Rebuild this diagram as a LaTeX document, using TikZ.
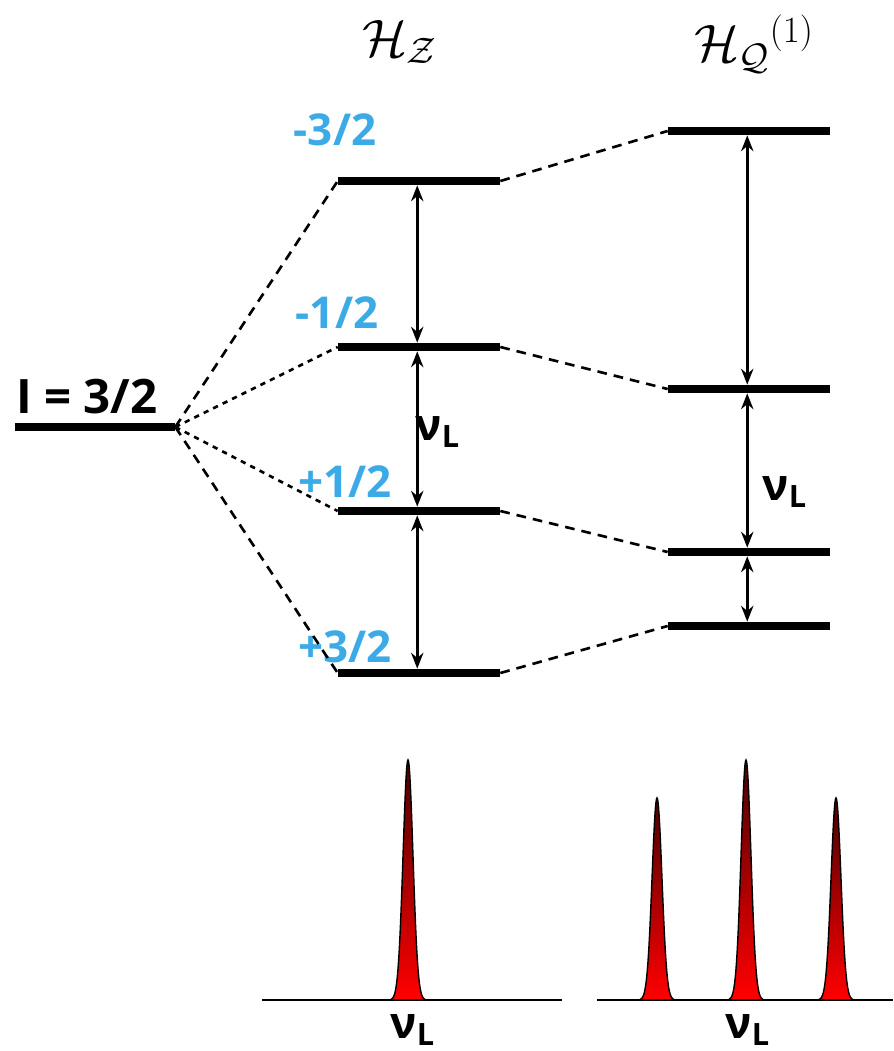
\documentclass[tikz,border=0pt]{standalone}
\usepackage{fix-cm}
\usepackage{fontspec}
\setmainfont{Open Sans}
\usetikzlibrary{arrows.meta}

\definecolor{spinblue}{RGB}{60,170,230}

\tikzset{
  level/.style={fill=black, minimum width=3.24cm, minimum height=0.16cm, inner sep=0pt},
  split/.style={line width=1.5pt, dash pattern=on 5.5pt off 4pt},
  splitdot/.style={line width=1.5pt, dash pattern=on 3pt off 3pt},
  gap/.style={{Stealth[length=9pt,width=7pt]}-{Stealth[length=9pt,width=7pt]}, line width=1.6pt},
  spin/.style={text=spinblue, font=\fontsize{25}{28}\selectfont\bfseries},
  lbl/.style={font=\fontsize{25}{28}\selectfont\bfseries},
  ham/.style={font=\fontsize{30}{34}\selectfont},
  peak/.style={draw=black, line width=0.8pt, top color=red!30!black, middle color=red!95!black, bottom color=red},
  base/.style={line width=1.4pt},
}

\begin{document}
\begin{tikzpicture}[x=0.02cm, y=-0.02cm]
  \useasboundingbox (0,0) rectangle (893,1051);

  % headers
  \node[ham] (hz) at (400,42) {$\mathcal{H}_{\mathcal{Z}}$};
  \node[ham] (hq) at (754,44) {$\mathcal{H}_{\mathcal{Q}}{}^{(1)}$};

  % unsplit level
  \node[level, minimum width=3.2cm] (i) at (95,427) {};
  \node[lbl, font=\fontsize{27}{30}\selectfont\bfseries] (il) at (87,397) {I = 3/2};

  % Zeeman levels
  \node[level] (z1) at (419,181) {};
  \node[level] (z2) at (419,347) {};
  \node[level] (z3) at (419,511) {};
  \node[level] (z4) at (419,673) {};
  \node[spin] (s1) at (335,130) {-3/2};
  \node[spin] (s2) at (337,313) {-1/2};
  \node[spin] (s3) at (345,482) {+1/2};
  \node[spin] (s4) at (345,647) {+3/2};

  % quadrupolar levels
  \node[level] (q1) at (749,131) {};
  \node[level] (q2) at (749,389) {};
  \node[level] (q3) at (749,552) {};
  \node[level] (q4) at (749,626) {};

  % splitting
  \draw[split] (i.east) -- (z1.west);
  \draw[splitdot] (i.east) -- (z2.west);
  \draw[splitdot] (i.east) -- (z3.west);
  \draw[split] (i.east) -- (z4.west);
  \foreach \n in {1,...,4}
    \draw[split] (z\n.east) -- (q\n.west);

  % transitions
  \draw[gap] ([xshift=-1pt]z1.south) -- ([xshift=-1pt]z2.north);
  \draw[gap] ([xshift=-1pt]z2.south) -- ([xshift=-1pt]z3.north);
  \draw[gap] ([xshift=-1pt]z3.south) -- ([xshift=-1pt]z4.north);
  \draw[gap] ([xshift=-1pt]q1.south) -- ([xshift=-1pt]q2.north);
  \draw[gap] ([xshift=-1pt]q2.south) -- ([xshift=-1pt]q3.north);
  \draw[gap] ([xshift=-1pt]q3.south) -- ([xshift=-1pt]q4.north);
  \node[lbl] (nu1) at (438,432) {ν\textsubscript{L}};
  \node[lbl] (nu2) at (785,492) {ν\textsubscript{L}};

  % spectra
  \draw[base] (262,1000) -- (562,1000);
  \draw[base] (597,1000) -- (893,1000);
  \foreach \px/\ph in {408/240, 657/202, 746/240, 836/202}
    \draw[peak] plot[domain=-17:17, samples=69, smooth, variable=\t]
      ({\px+\t}, {1000-\ph*exp(-(\t/7)^2)});
  \node[lbl] (nus1) at (413,1030) {ν\textsubscript{L}};
  \node[lbl] (nus2) at (748,1030) {ν\textsubscript{L}};
\end{tikzpicture}
\end{document}
